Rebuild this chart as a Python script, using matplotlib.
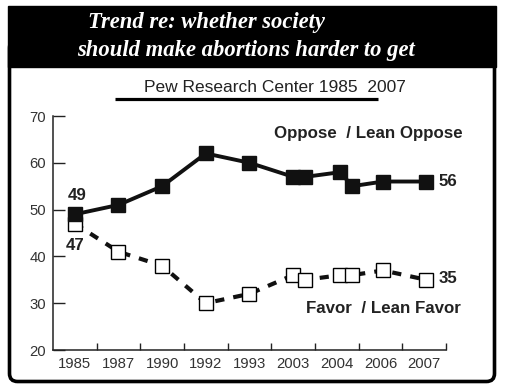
import matplotlib.pyplot as plt
from matplotlib.patches import FancyBboxPatch, Rectangle

# datos
years = ['1985', '1987', '1990', '1992', '1993', '2003', '2004', '2006', '2007']
# posicion de cada encuesta sobre el eje (intervalo del año + fraccion)
survey_pos = [0.5, 1.5, 2.5, 3.5, 4.5, 5.5, 5.78, 6.58, 6.85, 7.56, 8.55]
oppose = [49, 51, 55, 62, 60, 57, 57, 58, 55, 56, 56]
favor = [47, 41, 38, 30, 32, 36, 35, 36, 36, 37, 35]

W, H = 506, 391
fig = plt.figure(figsize=(W / 100, H / 100), dpi=100)

# fondo y marco en pixeles
bg = fig.add_axes([0, 0, 1, 1])
bg.set_xlim(0, W)
bg.set_ylim(H, 0)
bg.axis('off')
bg.add_patch(FancyBboxPatch((9.5, 40), 485, 341.5, boxstyle='round,pad=0,rounding_size=8',
                            fc='white', ec='black', lw=2.6))
bg.add_patch(Rectangle((8, 6), 488, 61, color='black'))
bg.text(88, 28, 'Trend re: whether society', color='white', fontsize=16.3,
        family='Liberation Serif', weight='bold', style='italic', va='baseline')
bg.text(77, 56, 'should make abortions harder to get', color='white', fontsize=16.3,
        family='Liberation Serif', weight='bold', style='italic', va='baseline')
bg.text(275, 92, 'Pew Research Center 1985  2007', color='#222222', fontsize=12.5,
        family='Liberation Sans', ha='center', va='baseline')
bg.plot([115, 378], [98.5, 98.5], color='black', lw=2.3, solid_capstyle='butt')

# grafico principal
ax = fig.add_axes([53 / W, 1 - 350 / H, (446 - 53) / W, (350 - 116) / H])
ax.patch.set_alpha(0)

ax.plot(survey_pos, favor, color='#111111', lw=3, dashes=(2.2, 2.2),
        marker='s', ms=9.4, mfc='white', mec='black', mew=1.0, zorder=3)
ax.plot(survey_pos, oppose, color='#111111', lw=2.8,
        marker='s', ms=9.4, mfc='#111111', mec='#111111', zorder=4)

ax.set_xlim(0, 9)
ax.set_ylim(20, 70)
ax.set_yticks(range(20, 71, 10))
ax.set_xticks(range(1, 10))
ax.set_xticklabels([])
ax.set_xticks([i + 0.5 for i in range(len(years))], minor=True)
ax.set_xticklabels(years, minor=True)
ax.tick_params(axis='x', which='major', direction='in', length=5, width=1, color='#222222')
ax.tick_params(axis='x', which='minor', length=0, pad=5)
ax.tick_params(axis='y', direction='in', length=8.5, width=1, color='#222222', pad=5)
for lab in ax.get_xticklabels(minor=True) + ax.get_yticklabels():
    lab.set_family('Liberation Sans')
    lab.set_fontsize(10.7)
    lab.set_color('#333333')

for s in ['top', 'right']:
    ax.spines[s].set_visible(False)
for s in ['left', 'bottom']:
    ax.spines[s].set_linewidth(1.1)
    ax.spines[s].set_color('#222222')

bold = dict(family='Liberation Sans', weight='bold', fontsize=12.2, color='#222222',
            clip_on=False, va='center')
ax.text(0.55, 53.0, '49', ha='center', **bold)
ax.text(0.5, 42.4, '47', ha='center', **bold)
ax.text(8.84, 56, '56', ha='left', **bold)
ax.text(8.84, 35.2, '35', ha='left', **bold)
ax.text(9.37, 66.2, 'Oppose  / Lean Oppose', ha='right', **bold)
ax.text(9.34, 28.8, 'Favor  / Lean Favor', ha='right', **bold)

fig.savefig('out.png', dpi=100)
